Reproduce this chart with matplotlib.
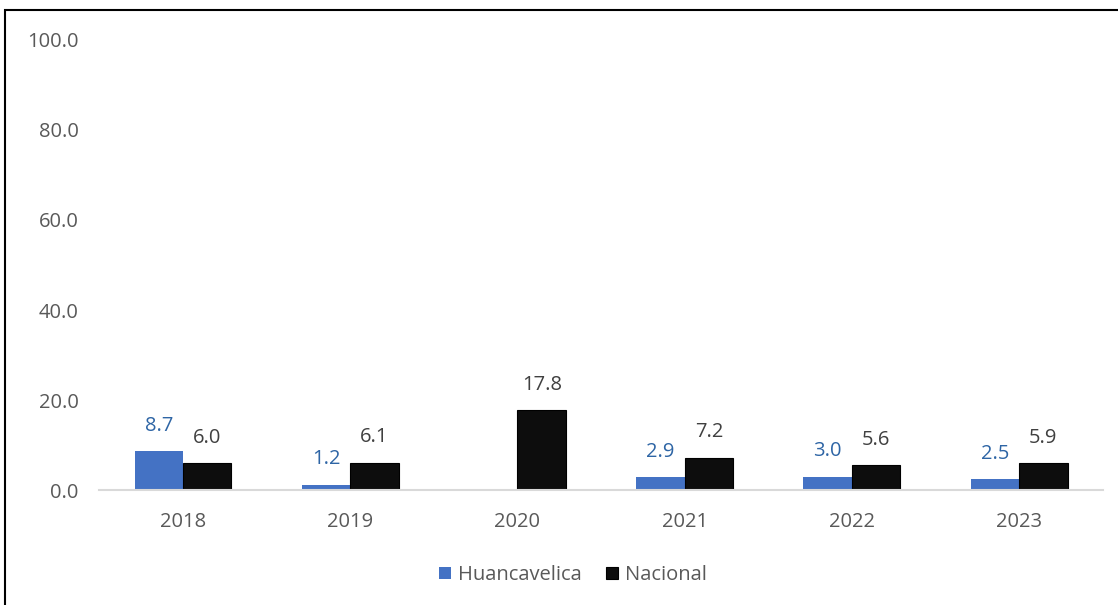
import numpy as np
import matplotlib.pyplot as plt
from matplotlib.patches import Rectangle

years = ['2018', '2019', '2020', '2021', '2022', '2023']
huancavelica = [8.7, 1.2, np.nan, 2.9, 3.0, 2.5]
nacional = [6.0, 6.1, 17.8, 7.2, 5.6, 5.9]

plt.rcParams['font.family'] = ['Open Sans', 'DejaVu Sans']
fs = 14.5

fig = plt.figure(figsize=(11.18, 6.05), dpi=100)
ax = fig.add_axes([0.0889, 0.19, 0.8974, 0.744])

x = np.arange(len(years))
w = 0.29
b1 = ax.bar(x - w/2, huancavelica, w, color='#4472c4', label='Huancavelica')
b2 = ax.bar(x + w/2, nacional, w, color='#0d0d0d', edgecolor='#000000', linewidth=0.8, label='Nacional')

for rect, v in zip(b1, huancavelica):
    if np.isnan(v):
        continue
    ax.annotate(f'{v:.1f}', (rect.get_x() + rect.get_width()/2, v), xytext=(0, 11),
                textcoords='offset points', ha='center', va='bottom', fontsize=fs, color='#2e65a5')
for rect, v in zip(b2, nacional):
    ax.annotate(f'{v:.1f}', (rect.get_x() + rect.get_width()/2, v), xytext=(0, 11),
                textcoords='offset points', ha='center', va='bottom', fontsize=fs, color='#404040')

ax.set_xlim(-0.5, len(years) - 0.5)
ax.set_ylim(0, 100)
ax.set_yticks(np.arange(0, 101, 20))
ax.set_yticklabels([f'{t:.1f}' for t in np.arange(0, 101, 20)])
ax.set_xticks(x)
ax.set_xticklabels(years)
ax.tick_params(axis='both', length=0, labelsize=fs, labelcolor='#595959')
ax.tick_params(axis='y', pad=15)
ax.tick_params(axis='x', pad=16)
for s in ['top', 'right', 'left']:
    ax.spines[s].set_visible(False)
ax.spines['bottom'].set_color('#d9d9d9')
ax.spines['bottom'].set_linewidth(1.5)

fig.legend(handles=[b1, b2], loc='center', bbox_to_anchor=(573/1118, 1 - 575/605), ncol=2,
           frameon=False, fontsize=fs, labelcolor='#595959', handlelength=0.6,
           handleheight=0.6, handletextpad=0.35, columnspacing=1.2)

fig.add_artist(Rectangle((5/1118, -0.1), 1.2, 1.1 - 10/605, transform=fig.transFigure,
                         fill=False, edgecolor='black', linewidth=1.5))

fig.savefig('out.png', dpi=100)
